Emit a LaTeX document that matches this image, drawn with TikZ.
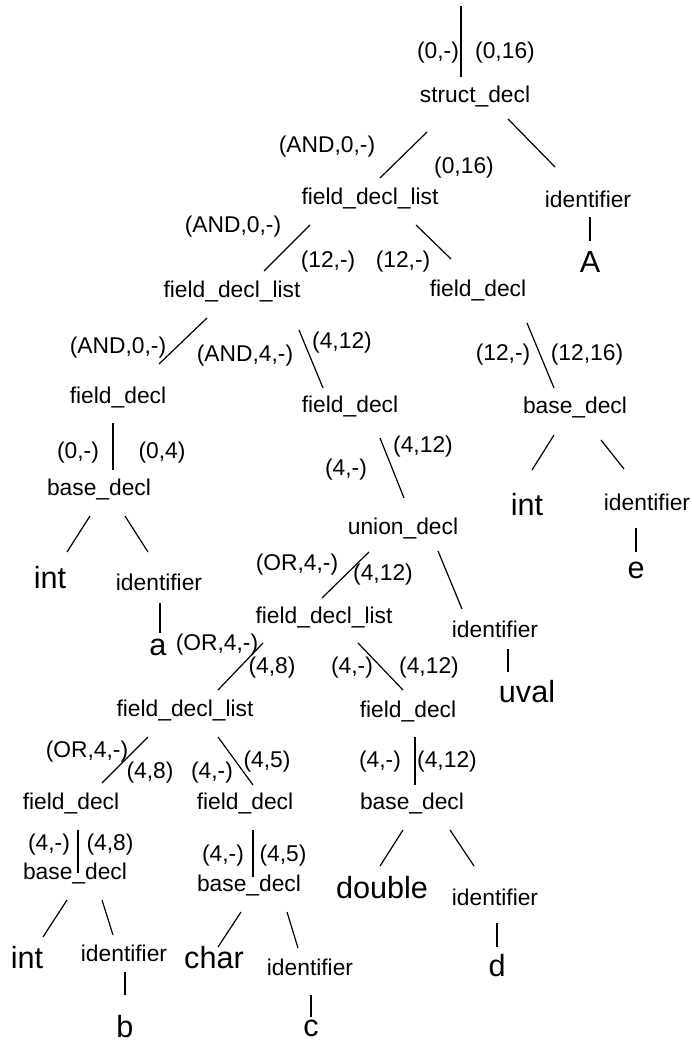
\documentclass[tikz,border=0pt]{standalone}
\usepackage{fontspec}
\setmainfont{Liberation Sans}
\usetikzlibrary{calc}
\tikzset{
    nterm/.style={inner sep=0pt, font=\fontsize{11.4}{13}\selectfont},
    term/.style ={inner sep=0pt, font=\fontsize{15.3}{18}\selectfont},
    attr/.style ={inner sep=0pt, font=\fontsize{11.4}{13}\selectfont},
    branch/.style={line width=0.6pt},
}

\begin{document}
\begin{tikzpicture}[x=0.5pt, y=-0.5pt]
    \useasboundingbox (0,0) rectangle (691,1042);

    % nonterminals
    \node[nterm] (sd)   at (475,97)  {struct\_decl};
    \node[nterm] (fdlA) at (370,199) {field\_decl\_list};
    \node[nterm] (idA)  at (588,199) {identifier};
    \node[nterm] (fdlB) at (232,292) {field\_decl\_list};
    \node[nterm] (fdR)  at (478,291) {field\_decl};
    \node[nterm] (fdC)  at (118,398) {field\_decl};
    \node[nterm] (fdD)  at (350,407) {field\_decl};
    \node[nterm] (bdR)  at (575,408) {base\_decl};
    \node[nterm] (bdC)  at (99,490)  {base\_decl};
    \node[nterm] (idR)  at (647,502) {identifier};
    \node[nterm] (unD)  at (403,529) {union\_decl};
    \node[nterm] (idC)  at (159,582) {identifier};
    \node[nterm] (fdlE) at (324,618) {field\_decl\_list};
    \node[nterm] (idU)  at (495,629) {identifier};
    \node[nterm] (fdlF) at (185,710) {field\_decl\_list};
    \node[nterm] (fdG)  at (408,711) {field\_decl};
    \node[nterm] (fdH)  at (71,803)  {field\_decl};
    \node[nterm] (fdI)  at (245,803) {field\_decl};
    \node[nterm] (bdJ)  at (412,803) {base\_decl};
    \node[nterm] (bdH)  at (75,873)  {base\_decl};
    \node[nterm] (bdI)  at (249,885) {base\_decl};
    \node[nterm] (idJ)  at (495,897) {identifier};
    \node[nterm] (idH)  at (124,953) {identifier};
    \node[nterm] (idI)  at (310,967) {identifier};

    % leaves
    \node[term] (lfA)  at (590,262) {A};
    \node[term] (intR) at (527,505) {int};
    \node[term] (lfE)  at (636,570) {e};
    \node[term] (intC) at (50,578)  {int};
    \node[term] (lfa)  at (158,647) {a};
    \node[term] (lfU)  at (527,692) {uval};
    \node[term] (dbl)  at (382,888) {double};
    \node[term] (intH) at (27,958)  {int};
    \node[term] (chr)  at (214,958) {char};
    \node[term] (lfd)  at (497,966) {d};
    \node[term] (lfb)  at (125,1027) {b};
    \node[term] (lfc)  at (311,1028) {c};

    % attribute pairs beside the branches
    \node[attr] (a1)  at (438,53)  {(0,-)};
    \node[attr] (a2)  at (505,53)  {(0,16)};
    \node[attr] (a3)  at (327,147) {(AND,0,-)};
    \node[attr] (a4)  at (464,168) {(0,16)};
    \node[attr] (a5)  at (233,227) {(AND,0,-)};
    \node[attr] (a6)  at (328,262) {(12,-)};
    \node[attr] (a7)  at (403,262) {(12,-)};
    \node[attr] (a8)  at (503,355) {(12,-)};
    \node[attr] (a9)  at (587,355) {(12,16)};
    \node[attr] (a10) at (118,348) {(AND,0,-)};
    \node[attr] (a11) at (245,356) {(AND,4,-)};
    \node[attr] (a12) at (342,343) {(4,12)};
    \node[attr] (a13) at (78,453)  {(0,-)};
    \node[attr] (a14) at (162,453) {(0,4)};
    \node[attr] (a15) at (346,470) {(4,-)};
    \node[attr] (a16) at (423,447) {(4,12)};
    \node[attr] (a17) at (297,565) {(OR,4,-)};
    \node[attr] (a18) at (383,575) {(4,12)};
    \node[attr] (a19) at (217,645) {(OR,4,-)};
    \node[attr] (a20) at (272,668) {(4,8)};
    \node[attr] (a21) at (352,668) {(4,-)};
    \node[attr] (a22) at (429,668) {(4,12)};
    \node[attr] (a23) at (87,752)  {(OR,4,-)};
    \node[attr] (a24) at (150,773) {(4,8)};
    \node[attr] (a25) at (212,773) {(4,-)};
    \node[attr] (a26) at (267,762) {(4,5)};
    \node[attr] (a27) at (380,762) {(4,-)};
    \node[attr] (a28) at (447,762) {(4,12)};
    \node[attr] (a29) at (49,845)  {(4,-)};
    \node[attr] (a30) at (110,845) {(4,8)};
    \node[attr] (a31) at (223,856) {(4,-)};
    \node[attr] (a32) at (283,856) {(4,5)};

    % branches
    \coordinate (root) at (461,6);
    \draw[branch] (root) -- ($(sd)+(-14,-20)$);
    \draw[branch] ($(sd)+(-48,35)$) -- ($(fdlA)+(10,-21)$);
    \draw[branch] ($(sd)+(33,22)$) -- ($(idA)+(-33,-32)$);
    \draw[branch] ($(idA)+(2,18)$) -- ($(lfA)+(0,-21)$);
    \draw[branch] ($(fdlA)+(-60,26)$) -- ($(fdlB)+(32,-21)$);
    \draw[branch] ($(fdlA)+(46,26)$) -- ($(fdR)+(-27,-32)$);
    \draw[branch] ($(fdR)+(49,32)$) -- ($(bdR)+(-21,-20)$);
    \draw[branch] ($(bdR)+(-21,27)$) -- ($(intR)+(5,-35)$);
    \draw[branch] ($(bdR)+(26,32)$) -- ($(idR)+(-23,-33)$);
    \draw[branch] ($(idR)+(-11,26)$) -- ($(lfE)+(0,-18)$);
    \draw[branch] ($(fdlB)+(-25,26)$) -- ($(fdC)+(41,-34)$);
    \draw[branch] ($(fdlB)+(67,38)$) -- ($(fdD)+(-27,-19)$);
    \draw[branch] ($(fdC)+(-5,25)$) -- ($(bdC)+(14,-20)$);
    \draw[branch] ($(bdC)+(-9,26)$) -- ($(intC)+(17,-26)$);
    \draw[branch] ($(bdC)+(26,26)$) -- ($(idC)+(-11,-30)$);
    \draw[branch] ($(idC)+(1,21)$) -- ($(lfa)+(2,-14)$);
    \draw[branch] ($(fdD)+(30,31)$) -- ($(unD)+(1,-31)$);
    \draw[branch] ($(unD)+(-34,23)$) -- ($(fdlE)+(-2,-20)$);
    \draw[branch] ($(unD)+(35,22)$) -- ($(idU)+(-33,-20)$);
    \draw[branch] ($(idU)+(13,20)$) -- ($(lfU)+(-19,-20)$);
    \draw[branch] ($(fdlE)+(-61,25)$) -- ($(fdlF)+(33,-20)$);
    \draw[branch] ($(fdlE)+(34,25)$) -- ($(fdG)+(-5,-21)$);
    \draw[branch] ($(fdlF)+(-37,27)$) -- ($(fdH)+(31,-20)$);
    \draw[branch] ($(fdlF)+(33,27)$) -- ($(fdI)+(8,-18)$);
    \draw[branch] ($(fdH)+(7,27)$) -- ($(bdH)+(3,0)$);
    \draw[branch] ($(fdI)+(8,27)$) -- ($(bdI)+(4,-8)$);
    \draw[branch] ($(fdG)+(7,26)$) -- ($(bdJ)+(3,-18)$);
    \draw[branch] ($(bdJ)+(-9,27)$) -- ($(dbl)+(-2,-22)$);
    \draw[branch] ($(bdJ)+(38,27)$) -- ($(idJ)+(-21,-31)$);
    \draw[branch] ($(idJ)+(2,26)$) -- ($(lfd)+(0,-19)$);
    \draw[branch] ($(bdH)+(-8,27)$) -- ($(intH)+(16,-21)$);
    \draw[branch] ($(bdH)+(27,27)$) -- ($(idH)+(-11,-18)$);
    \draw[branch] ($(idH)+(1,19)$) -- ($(lfb)+(0,-32)$);
    \draw[branch] ($(bdI)+(-8,27)$) -- ($(chr)+(4,-11)$);
    \draw[branch] ($(bdI)+(38,27)$) -- ($(idI)+(-12,-19)$);
    \draw[branch] ($(idI)+(1,28)$) -- ($(lfc)+(0,-11)$);
\end{tikzpicture}
\end{document}
